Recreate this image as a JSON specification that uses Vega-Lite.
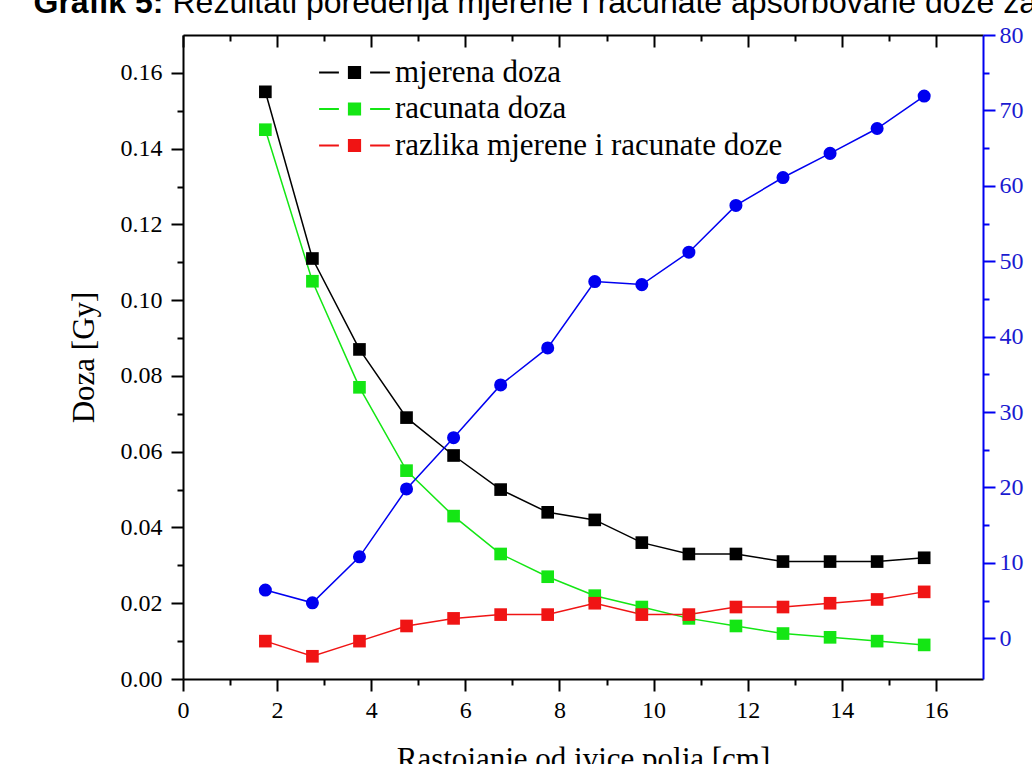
{
  "$schema": "https://vega.github.io/schema/vega-lite/v6.json",
  "width": 800,
  "height": 644,
  "autosize": {"type": "none"},
  "padding": {"left": 183, "top": 35, "right": 49, "bottom": 85},
  "background": "white",
  "datasets": {
    "doze": [
      {"x": 1.75, "serija": "mjerena doza", "doza": 0.155},
      {"x": 2.75, "serija": "mjerena doza", "doza": 0.111},
      {"x": 3.75, "serija": "mjerena doza", "doza": 0.087},
      {"x": 4.75, "serija": "mjerena doza", "doza": 0.069},
      {"x": 5.75, "serija": "mjerena doza", "doza": 0.059},
      {"x": 6.75, "serija": "mjerena doza", "doza": 0.050},
      {"x": 7.75, "serija": "mjerena doza", "doza": 0.044},
      {"x": 8.75, "serija": "mjerena doza", "doza": 0.042},
      {"x": 9.75, "serija": "mjerena doza", "doza": 0.036},
      {"x": 10.75, "serija": "mjerena doza", "doza": 0.033},
      {"x": 11.75, "serija": "mjerena doza", "doza": 0.033},
      {"x": 12.75, "serija": "mjerena doza", "doza": 0.031},
      {"x": 13.75, "serija": "mjerena doza", "doza": 0.031},
      {"x": 14.75, "serija": "mjerena doza", "doza": 0.031},
      {"x": 15.75, "serija": "mjerena doza", "doza": 0.032},
      {"x": 1.75, "serija": "racunata doza", "doza": 0.145},
      {"x": 2.75, "serija": "racunata doza", "doza": 0.105},
      {"x": 3.75, "serija": "racunata doza", "doza": 0.077},
      {"x": 4.75, "serija": "racunata doza", "doza": 0.055},
      {"x": 5.75, "serija": "racunata doza", "doza": 0.043},
      {"x": 6.75, "serija": "racunata doza", "doza": 0.033},
      {"x": 7.75, "serija": "racunata doza", "doza": 0.027},
      {"x": 8.75, "serija": "racunata doza", "doza": 0.022},
      {"x": 9.75, "serija": "racunata doza", "doza": 0.019},
      {"x": 10.75, "serija": "racunata doza", "doza": 0.016},
      {"x": 11.75, "serija": "racunata doza", "doza": 0.014},
      {"x": 12.75, "serija": "racunata doza", "doza": 0.012},
      {"x": 13.75, "serija": "racunata doza", "doza": 0.011},
      {"x": 14.75, "serija": "racunata doza", "doza": 0.010},
      {"x": 15.75, "serija": "racunata doza", "doza": 0.009},
      {"x": 1.75, "serija": "razlika mjerene i racunate doze", "doza": 0.010},
      {"x": 2.75, "serija": "razlika mjerene i racunate doze", "doza": 0.006},
      {"x": 3.75, "serija": "razlika mjerene i racunate doze", "doza": 0.010},
      {"x": 4.75, "serija": "razlika mjerene i racunate doze", "doza": 0.014},
      {"x": 5.75, "serija": "razlika mjerene i racunate doze", "doza": 0.016},
      {"x": 6.75, "serija": "razlika mjerene i racunate doze", "doza": 0.017},
      {"x": 7.75, "serija": "razlika mjerene i racunate doze", "doza": 0.017},
      {"x": 8.75, "serija": "razlika mjerene i racunate doze", "doza": 0.020},
      {"x": 9.75, "serija": "razlika mjerene i racunate doze", "doza": 0.017},
      {"x": 10.75, "serija": "razlika mjerene i racunate doze", "doza": 0.017},
      {"x": 11.75, "serija": "razlika mjerene i racunate doze", "doza": 0.019},
      {"x": 12.75, "serija": "razlika mjerene i racunate doze", "doza": 0.019},
      {"x": 13.75, "serija": "razlika mjerene i racunate doze", "doza": 0.020},
      {"x": 14.75, "serija": "razlika mjerene i racunate doze", "doza": 0.021},
      {"x": 15.75, "serija": "razlika mjerene i racunate doze", "doza": 0.023}
    ],
    "procenat": [
      {"x": 1.75, "pct": 6.4},
      {"x": 2.75, "pct": 4.7},
      {"x": 3.75, "pct": 10.8},
      {"x": 4.75, "pct": 19.8},
      {"x": 5.75, "pct": 26.6},
      {"x": 6.75, "pct": 33.6},
      {"x": 7.75, "pct": 38.5},
      {"x": 8.75, "pct": 47.3},
      {"x": 9.75, "pct": 46.9},
      {"x": 10.75, "pct": 51.2},
      {"x": 11.75, "pct": 57.4},
      {"x": 12.75, "pct": 61.1},
      {"x": 13.75, "pct": 64.3},
      {"x": 14.75, "pct": 67.6},
      {"x": 15.75, "pct": 71.9}
    ]
  },
  "config": {
    "view": {"stroke": null},
    "axis": {
      "grid": false,
      "domainColor": "black",
      "tickColor": "black",
      "labelColor": "black",
      "titleColor": "black",
      "labelFont": "Liberation Serif",
      "titleFont": "Liberation Serif",
      "labelFontSize": 24,
      "titleFontSize": 31,
      "titleFontWeight": "normal",
      "domainWidth": 2,
      "tickWidth": 2
    }
  },
  "layer": [
    {
      "data": {"name": "doze"},
      "encoding": {
        "x": {
          "field": "x", "type": "quantitative",
          "scale": {"domain": [0, 17], "nice": false, "zero": false},
          "axis": {
            "orient": "bottom", "values": [0, 2, 4, 6, 8, 10, 12, 14, 16], "format": "d",
            "tickSize": 12, "labelPadding": 7, "labelFlush": false,
            "title": "Rastojanje od ivice polja [cm]", "titlePadding": 22
          }
        },
        "y": {
          "field": "doza", "type": "quantitative",
          "scale": {"domain": [0, 0.17], "nice": false, "zero": false},
          "axis": {
            "orient": "left", "values": [0, 0.02, 0.04, 0.06, 0.08, 0.1, 0.12, 0.14, 0.16], "format": ".2f",
            "tickSize": 12, "labelPadding": 9, "labelFlush": false,
            "title": "Doza [Gy]", "titlePadding": 20
          }
        },
        "color": {
          "field": "serija", "type": "nominal",
          "scale": {
            "domain": ["mjerena doza", "racunata doza", "razlika mjerene i racunate doze"],
            "range": ["#000000", "#14e614", "#f01414"]
          },
          "legend": {
            "title": null,
            "orient": "none",
            "legendX": 156,
            "legendY": 22,
            "symbolType": "M-5.9,0H-2.6M2.6,0H5.9M-0.95,-0.95H0.95V0.95H-0.95Z",
            "symbolSize": 144,
            "symbolStrokeWidth": 1.8,
            "symbolOpacity": 1,
            "labelFont": "Liberation Serif",
            "labelFontSize": 31,
            "labelColor": "black",
            "labelOffset": 25,
            "labelLimit": 0,
            "rowPadding": 4.5,
            "encode": {
              "symbols": {
                "update": {
                  "fill": {"scale": "color", "field": "value"},
                  "stroke": {"scale": "color", "field": "value"},
                  "opacity": {"value": 1}
                }
              }
            }
          }
        }
      },
      "layer": [
        {"mark": {"type": "line", "strokeWidth": 1.5}},
        {"mark": {"type": "point", "shape": "square", "filled": true, "size": 160, "opacity": 1}}
      ]
    },
    {
      "data": {"name": "procenat"},
      "encoding": {
        "x": {
          "field": "x", "type": "quantitative",
          "scale": {"domain": [0, 17], "nice": false, "zero": false},
          "axis": {
            "orient": "top", "values": [0, 2, 4, 6, 8, 10, 12, 14, 16],
            "tickSize": -12, "labels": false,
            "title": "Grafik 5:", "titleX": -150, "titleY": -23, "titleAngle": 0,
            "titleAlign": "left", "titleBaseline": "alphabetic",
            "titleFont": "Liberation Sans", "titleFontSize": 32, "titleFontWeight": "bold"
          }
        },
        "y": {
          "field": "pct", "type": "quantitative",
          "scale": {"domain": [-5.4, 80], "nice": false, "zero": false},
          "axis": {
            "orient": "right", "values": [0, 10, 20, 30, 40, 50, 60, 70, 80],
            "tickSize": 12, "labelPadding": 4, "labelFlush": false,
            "domainColor": "#0000f0", "tickColor": "#0000f0", "labelColor": "#1a1ad0",
            "title": null
          }
        }
      },
      "layer": [
        {"mark": {"type": "line", "color": "#0000f0", "strokeWidth": 1.5}},
        {"mark": {"type": "point", "shape": "circle", "filled": true, "size": 170, "color": "#0000f0", "opacity": 1}}
      ]
    },
    {
      "data": {"name": "doze"},
      "mark": {"type": "point", "opacity": 0},
      "encoding": {
        "x": {
          "field": "x", "type": "quantitative",
          "scale": {"domain": [0, 17], "nice": false, "zero": false},
          "axis": {"orient": "bottom", "values": [1, 3, 5, 7, 9, 11, 13, 15], "tickSize": 6, "labels": false, "domain": false, "title": null}
        },
        "y": {
          "field": "doza", "type": "quantitative",
          "scale": {"domain": [0, 0.17], "nice": false, "zero": false},
          "axis": {"orient": "left", "values": [0.01, 0.03, 0.05, 0.07, 0.09, 0.11, 0.13, 0.15], "tickSize": 6, "labels": false, "domain": false, "title": null}
        }
      }
    },
    {
      "data": {"name": "procenat"},
      "mark": {"type": "point", "opacity": 0},
      "encoding": {
        "x": {
          "field": "x", "type": "quantitative",
          "scale": {"domain": [0, 17], "nice": false, "zero": false},
          "axis": {
            "orient": "top", "values": [1, 3, 5, 7, 9, 11, 13, 15], "tickSize": -6, "labels": false, "domain": false,
            "title": "Rezultati poređenja mjerene i racunate apsorbovane doze za",
            "titleX": -11, "titleY": -23, "titleAngle": 0,
            "titleAlign": "left", "titleBaseline": "alphabetic",
            "titleFont": "Liberation Sans", "titleFontSize": 32, "titleFontWeight": "normal"
          }
        },
        "y": {
          "field": "pct", "type": "quantitative",
          "scale": {"domain": [-5.4, 80], "nice": false, "zero": false},
          "axis": {"orient": "right", "values": [5, 15, 25, 35, 45, 55, 65, 75], "tickSize": 6, "labels": false, "domain": false, "tickColor": "#0000f0", "title": null}
        }
      }
    }
  ],
  "resolve": {
    "scale": {"y": "independent"},
    "axis": {"x": "independent", "y": "independent"}
  }
}
